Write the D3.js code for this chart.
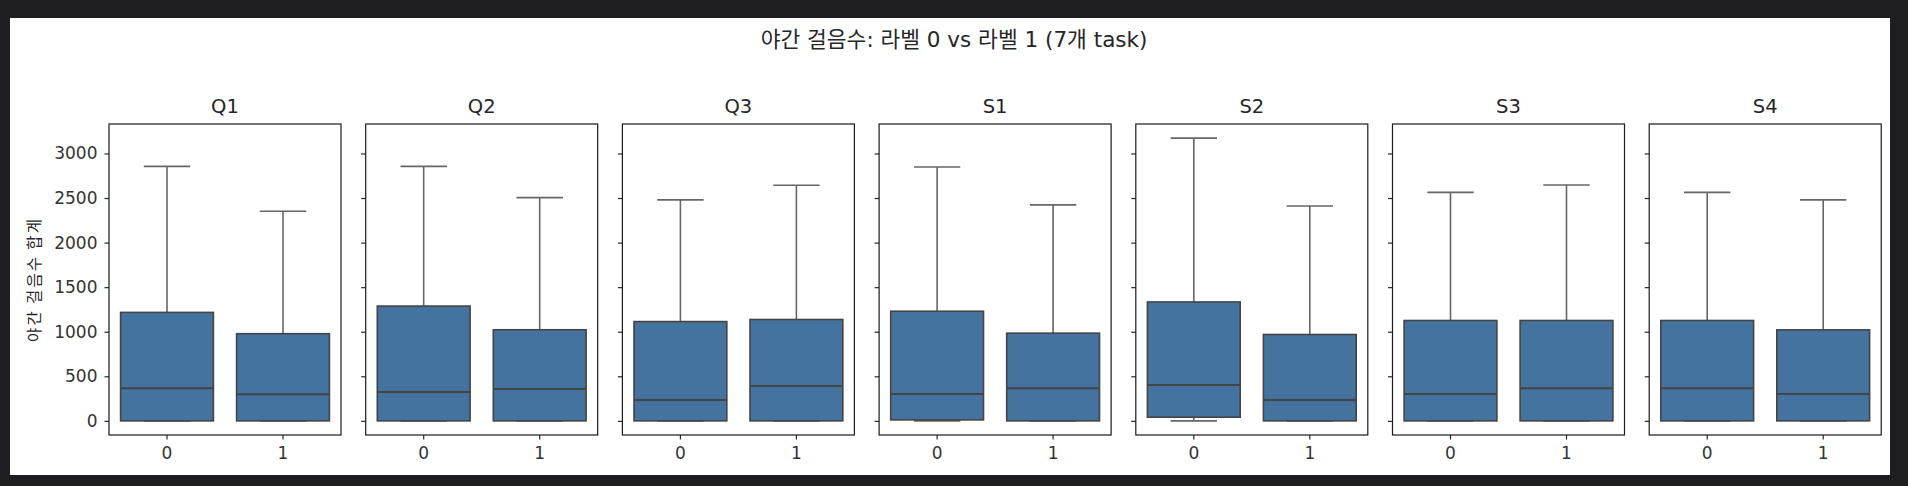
<!DOCTYPE html>
<html>
<head>
<meta charset="utf-8">
<script src="https://cdn.jsdelivr.net/npm/d3@7"></script>
<style>
  body { margin: 0; background: #1e1d22; }
  svg { display: block; }
  text { font-family: "DejaVu Sans", "Noto Sans CJK KR", sans-serif; fill: #262626; }
  .frame { fill: none; stroke: #1a1a1a; stroke-width: 1.2; }
  .axis path { display: none; }
  .axis line { stroke: #262626; stroke-width: 1.2; }
  .axis text { font-family: "DejaVu Sans", sans-serif; font-size: 17px; fill: #333; }
</style>
</head>
<body>
<div id="chart"></div>
<script>
// night step totals, label 0 vs label 1, per task (box stats)
var tasks = ["Q1", "Q2", "Q3", "S1", "S2", "S3", "S4"];
var labels = ["0", "1"];

// [whisker low, Q1, median, Q3, whisker high]
var label0Stats = [
  [0, 0, 366, 1217, 2855],
  [0, 0, 325, 1288, 2855],
  [0, 0, 235, 1114, 2479],
  [0, 11, 302, 1230, 2848],
  [0, 41, 403, 1334, 3172],
  [0, 0, 302, 1126, 2564],
  [0, 0, 365, 1126, 2564]
];
var label1Stats = [
  [0, 0, 299, 978, 2352],
  [0, 0, 358, 1022, 2505],
  [0, 0, 391, 1137, 2643],
  [0, 0, 365, 984, 2423],
  [0, 0, 235, 969, 2411],
  [0, 0, 365, 1126, 2646],
  [0, 0, 302, 1021, 2479]
];
var yTicks = [0, 500, 1000, 1500, 2000, 2500, 3000];

var width = 1908, height = 486;
var panelLeft = 109, panelStep = 256.7, panelW = 232;
var plotTop = 124, plotBottom = 435;
var boxColor = "#44739f", lineColor = "#444444", whiskColor = "#666666";

var svg = d3.select("#chart").append("svg")
  .attr("width", width)
  .attr("height", height);

svg.append("rect")
  .attr("x", 10).attr("y", 18)
  .attr("width", 1880).attr("height", 457)
  .attr("fill", "#ffffff");

svg.append("text")
  .attr("x", 954).attr("y", 47)
  .attr("text-anchor", "middle")
  .style("font-size", "21.5px")
  .text("야간 걸음수: 라벨 0 vs 라벨 1 (7개 task)");

var allMax = d3.max(label0Stats.concat(label1Stats), d => d[4]);
var allMin = d3.min(label0Stats.concat(label1Stats), d => d[0]);
var pad = (allMax - allMin) * 0.05;

var y = d3.scaleLinear()
  .domain([allMin - pad, allMax + pad])
  .range([plotBottom, plotTop]);

var x = d3.scaleBand()
  .domain(labels)
  .range([0, panelW])
  .paddingInner(0)
  .paddingOuter(0);

tasks.forEach(function(task, i) {
  var g = svg.append("g")
    .attr("transform", `translate(${panelLeft + i * panelStep},0)`);

  var stats = [label0Stats[i], label1Stats[i]];
  var bw = x.bandwidth() * 0.8;
  var cap = bw * 0.5;

  stats.forEach(function(s, j) {
    var cx = x(labels[j]) + x.bandwidth() / 2;

    // whiskers
    g.append("line")
      .attr("x1", cx).attr("x2", cx)
      .attr("y1", y(s[3])).attr("y2", y(s[4]))
      .attr("stroke", whiskColor).attr("stroke-width", 1.6);
    g.append("line")
      .attr("x1", cx).attr("x2", cx)
      .attr("y1", y(s[1])).attr("y2", y(s[0]))
      .attr("stroke", whiskColor).attr("stroke-width", 1.6);
    g.append("line")
      .attr("x1", cx - cap / 2).attr("x2", cx + cap / 2)
      .attr("y1", y(s[4])).attr("y2", y(s[4]))
      .attr("stroke", whiskColor).attr("stroke-width", 1.6);
    g.append("line")
      .attr("x1", cx - cap / 2).attr("x2", cx + cap / 2)
      .attr("y1", y(s[0])).attr("y2", y(s[0]))
      .attr("stroke", whiskColor).attr("stroke-width", 1.6);

    // box
    g.append("rect")
      .attr("x", cx - bw / 2)
      .attr("y", y(s[3]))
      .attr("width", bw)
      .attr("height", Math.max(0, y(s[1]) - y(s[3])))
      .attr("fill", boxColor)
      .attr("stroke", lineColor)
      .attr("stroke-width", 1.6);

    // median
    g.append("line")
      .attr("x1", cx - bw / 2).attr("x2", cx + bw / 2)
      .attr("y1", y(s[2])).attr("y2", y(s[2]))
      .attr("stroke", lineColor).attr("stroke-width", 2);
  });

  g.append("rect")
    .attr("class", "frame")
    .attr("x", 0).attr("y", plotTop)
    .attr("width", panelW).attr("height", plotBottom - plotTop);

  var yAxis = d3.axisLeft(y)
    .tickValues(yTicks)
    .tickSize(4.5)
    .tickPadding(7)
    .tickFormat(i === 0 ? d3.format("d") : "");
  g.append("g").attr("class", "axis").call(yAxis);

  var xAxis = d3.axisBottom(x)
    .tickSize(4.5)
    .tickPadding(7);
  g.append("g")
    .attr("class", "axis")
    .attr("transform", `translate(0,${plotBottom})`)
    .call(xAxis);

  g.append("text")
    .attr("x", panelW / 2).attr("y", 113)
    .attr("text-anchor", "middle")
    .style("font-size", "19.5px")
    .text(task);
});

svg.append("text")
  .attr("transform", `translate(33,${(plotTop + plotBottom) / 2}) rotate(-90)`)
  .attr("text-anchor", "middle")
  .attr("dominant-baseline", "central")
  .style("font-family", "'Noto Sans CJK KR', sans-serif")
  .style("font-size", "15.5px")
  .style("letter-spacing", "2px")
  .text("야간 걸음수 합계");
</script>
</body>
</html>
